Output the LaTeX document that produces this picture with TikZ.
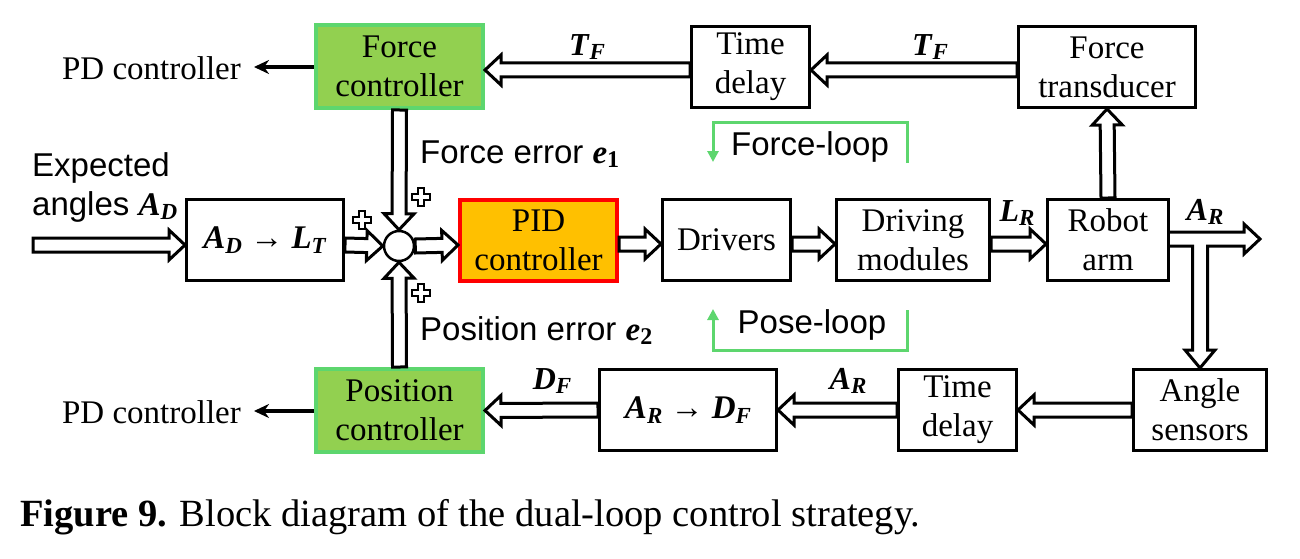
\documentclass[tikz,border=0pt]{standalone}
\usepackage{fontspec}
\setmainfont{Liberation Serif}
\setsansfont{Liberation Sans}
\usetikzlibrary{calc,arrows.meta}
\definecolor{lgreen}{HTML}{92D050}
\definecolor{bgreen}{HTML}{5DD66E}
\definecolor{pidfill}{HTML}{FFC000}
\newcommand\mv[2]{{\rmfamily\textbf{\textit{#1}}\raisebox{-0.3ex}{\fontsize{23}{23}\selectfont\textbf{\textit{#2}}}}}
\newcommand\mn[2]{{\rmfamily\textbf{\textit{#1}}\raisebox{-0.3ex}{\fontsize{24}{24}\selectfont\textbf{#2}}}}
\newcommand\hollowarrow[2]{%
  \coordinate (ha) at (#1); \coordinate (hb) at (#2);
  \coordinate (hh) at ($(hb)!16pt!(ha)$);
  \draw[hol] ($(ha)!7pt!90:(hb)$) -- ($(hh)!7pt!90:(hb)$) -- ($(hh)!15pt!90:(hb)$) -- (hb)
     -- ($(hh)!15pt!-90:(hb)$) -- ($(hh)!7pt!-90:(hb)$) -- ($(ha)!7pt!-90:(hb)$) -- cycle;}
\newcommand\plussign[1]{%
  \coordinate (pp) at (#1);
  \draw[line width=1.4pt, fill=white] ($(pp)+(-3,-9)$) -- ($(pp)+(3,-9)$) -- ($(pp)+(3,-3)$)
    -- ($(pp)+(9,-3)$) -- ($(pp)+(9,3)$) -- ($(pp)+(3,3)$) -- ($(pp)+(3,9)$)
    -- ($(pp)+(-3,9)$) -- ($(pp)+(-3,3)$) -- ($(pp)+(-9,3)$) -- ($(pp)+(-9,-3)$)
    -- ($(pp)+(-3,-3)$) -- cycle;}
\begin{document}
\begin{tikzpicture}[x=1pt,y=-1pt,
  blk/.style={draw, line width=3pt, minimum height=81pt, align=center, inner sep=0pt,
    font=\fontsize{33}{39}\selectfont},
  gblk/.style={blk, draw=bgreen, fill=lgreen, line width=4pt},
  hol/.style={draw, line width=3pt, fill=white, line join=miter},
  pdarrow/.style={draw, line width=3.5pt, -{Stealth[length=15pt,width=14pt]}},
  loopl/.style={draw=bgreen, line width=3pt, -{Triangle[length=11pt,width=11pt]}},
  sans/.style={font=\sffamily\fontsize{33}{39}\selectfont, inner sep=0pt},
  serif/.style={font=\fontsize{33}{39}\selectfont, inner sep=0pt},
  lab/.style={font=\fontsize{32}{32}\selectfont, inner sep=0pt}]
\useasboundingbox (0,0) rectangle (1300,559);
% nodes
\node[gblk, minimum width=167pt, minimum height=83pt] (fc) at (399.5,66.5) {Force\\controller};
\node[blk, minimum width=118pt] (td1) at (750.5,67) {Time\\delay};
\node[blk, minimum width=177pt] (ft) at (1107,67) {Force\\transducer};
\node[blk, minimum width=157pt] (adlt) at (265,240) {\mv{A}{D} → \mv{L}{T}};
\node[draw, circle, line width=2.5pt, minimum size=30pt, inner sep=0pt] (sum) at (399,246) {};
\node[blk, draw=red, fill=pidfill, line width=4pt, minimum width=157pt] (pid) at (538.5,240) {PID\\controller};
\node[blk, minimum width=128pt] (drv) at (726.5,240) {Drivers};
\node[blk, minimum width=153pt] (dm) at (913,240) {Driving\\modules};
\node[blk, minimum width=121pt] (ra) at (1108,240) {Robot\\arm};
\node[gblk, minimum width=167pt, minimum height=83pt] (pc) at (399.5,410.5) {Position\\controller};
\node[blk, minimum width=177pt] (ardf) at (688,410) {\mv{A}{R} → \mv{D}{F}};
\node[blk, minimum width=118pt] (td2) at (957.5,410) {Time\\delay};
\node[blk, minimum width=133pt] (as) at (1200,410) {Angle\\sensors};
% PD controller texts
\node[serif, anchor=east] (pd1) at (241,68) {PD controller};
\node[serif, anchor=east] (pd2) at (241,412) {PD controller};
\coordinate (pd1e) at (254,67);
\coordinate (pd2e) at (254,411);
\draw[pdarrow] (fc.west |- pd1e) -- (pd1e);
\draw[pdarrow] (pc.west |- pd2e) -- (pd2e);
% input
\node[sans, anchor=base west] (exp1) at (32,176) {Expected};
\node[sans, anchor=base west] (exp2) at (32,215) {angles \mv{A}{D}};
\coordinate (inp) at (33,245);
% hollow arrows, main row
\hollowarrow{inp}{adlt.west |- inp}
\hollowarrow{$(adlt.east)+(0,5)$}{sum.west}
\hollowarrow{sum.east}{$(pid.west)+(0,5)$}
\hollowarrow{$(pid.east)+(0,4)$}{$(drv.west)+(0,4)$}
\hollowarrow{$(drv.east)+(0,4)$}{$(dm.west)+(0,4)$}
\hollowarrow{$(dm.east)+(0,4)$}{$(ra.west)+(0,4)$}
% vertical into sum
\hollowarrow{fc.south}{sum.north}
\hollowarrow{pc.north}{sum.south}
% top row
\hollowarrow{$(ft.west)+(0,3)$}{$(td1.east)+(0,3)$}
\hollowarrow{$(td1.west)+(0,3)$}{$(fc.east)+(0,3.5)$}
\hollowarrow{ra.north}{ft.south}
% bottom row
\hollowarrow{as.west}{td2.east}
\hollowarrow{td2.west}{ardf.east}
\hollowarrow{ardf.west}{pc.east}
% T junction output of robot arm
\coordinate (tout) at (1260,239);
\draw[hol] ($(ra.east)+(0,-8)$) -- (1244,232) -- (1244,224) -- (tout) -- (1244,254) -- (1244,246)
  -- (1207.5,246) -- (1207.5,350) -- (1215,350) -- (as.north) -- (1185,350) -- (1192.5,350)
  -- (1192.5,246) -- ($(ra.east)+(0,6)$);
% plus signs
\plussign{$(sum)+(-37,-26)$}
\plussign{$(sum)+(22,-49)$}
\plussign{$(sum)+(22,47)$}
% labels
\node[sans, anchor=base west] (fe) at (420,163) {Force error \mn{e}{1}};
\node[sans, anchor=base west] (pe) at (420,340) {Position error \mn{e}{2}};
\node[lab] (tf1) at (587,47) {\mv{T}{F}};
\node[lab] (tf2) at (930,47) {\mv{T}{F}};
\node[lab] (lr) at (1017,213) {\mv{L}{R}};
\node[lab] (ar1) at (1205,212) {\mv{A}{R}};
\node[lab] (df) at (552,381) {\mv{D}{F}};
\node[lab] (ar2) at (848,381) {\mv{A}{R}};
% loops
\node[sans] (fl) at (810,147) {Force-loop};
\node[sans] (pl) at (812,325) {Pose-loop};
\coordinate (fl1) at (907,163); \coordinate (fl2) at (713,162);
\draw[loopl] (fl1) -- (907,123) -- (713,123) -- (fl2);
\coordinate (pl1) at (907,310); \coordinate (pl2) at (713,309);
\draw[loopl] (pl1) -- (907,350) -- (713,350) -- (pl2);
% caption
\node[anchor=base west, inner sep=0pt, font=\fontsize{38.5}{38.5}\selectfont] (cap) at (20,526)
  {\textbf{Figure 9.} Block diagram of the dual-loop control strategy.};
\end{tikzpicture}
\end{document}
